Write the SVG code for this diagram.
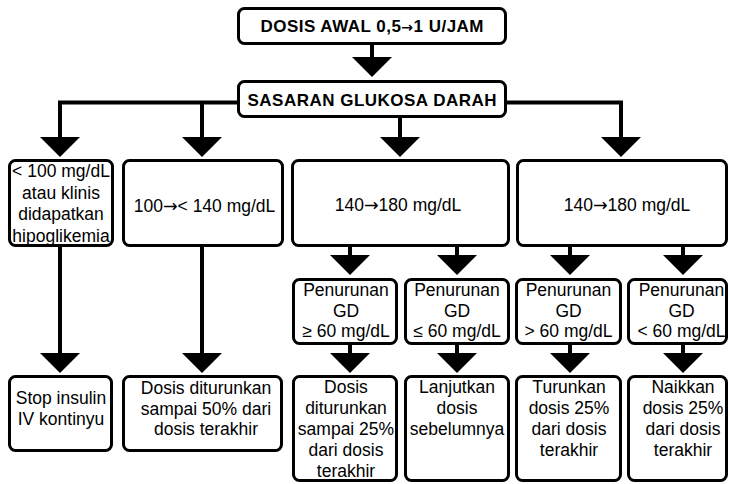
<svg xmlns="http://www.w3.org/2000/svg" width="730" height="484" viewBox="0 0 730 484">
<style>
.box{fill:#fff;stroke:#000;stroke-width:3}
.ln{stroke:#000;stroke-width:4;fill:none}
.hd{fill:#000}
text{font-family:"Liberation Sans",Arial,sans-serif;font-size:17.5px;fill:#000;text-anchor:middle}
.b{font-weight:bold;font-size:17px}
.ar{font-family:"DejaVu Sans",sans-serif}
</style>
<rect width="730" height="484" fill="#fff"/>
<g id="connectors">
<line class="ln" x1="372" y1="45" x2="372" y2="58"/>
<polygon class="hd" points="352,57 392,57 372,77"/>
<polyline class="ln" points="60,138 60,102.5 238,102.5"/>
<line class="ln" x1="202" y1="102.5" x2="202" y2="138"/>
<polyline class="ln" points="506,102.5 621,102.5 621,138"/>
<line class="ln" x1="400" y1="117" x2="400" y2="138"/>
<polygon class="hd" points="40,137 80,137 60,157"/>
<polygon class="hd" points="182,137 222,137 202,157"/>
<polygon class="hd" points="380,137 420,137 400,157"/>
<polygon class="hd" points="601,137 641,137 621,157"/>
<line class="ln" x1="350" y1="246" x2="350" y2="256"/>
<line class="ln" x1="457" y1="246" x2="457" y2="256"/>
<line class="ln" x1="570" y1="246" x2="570" y2="256"/>
<line class="ln" x1="683" y1="246" x2="683" y2="256"/>
<polygon class="hd" points="330,255 370,255 350,275"/>
<polygon class="hd" points="437,255 477,255 457,275"/>
<polygon class="hd" points="550,255 590,255 570,275"/>
<polygon class="hd" points="663,255 703,255 683,275"/>
<line class="ln" x1="350" y1="344" x2="350" y2="354"/>
<line class="ln" x1="457" y1="344" x2="457" y2="354"/>
<line class="ln" x1="570" y1="344" x2="570" y2="354"/>
<line class="ln" x1="683" y1="344" x2="683" y2="354"/>
<line class="ln" x1="60" y1="246" x2="60" y2="354"/>
<line class="ln" x1="202" y1="246" x2="202" y2="354"/>
<polygon class="hd" points="40,353 80,353 60,373"/>
<polygon class="hd" points="182,353 222,353 202,373"/>
<polygon class="hd" points="330,353 370,353 350,373"/>
<polygon class="hd" points="437,353 477,353 457,373"/>
<polygon class="hd" points="550,353 590,353 570,373"/>
<polygon class="hd" points="663,353 703,353 683,373"/>
</g>
<g id="start">
<rect class="box" x="238.5" y="8.5" width="267" height="35" rx="6"/>
<text class="b" x="372" y="32" textLength="223" lengthAdjust="spacing">DOSIS AWAL 0,5<tspan class="ar" font-size="14">→</tspan>1 U/JAM</text>
</g>
<g id="target">
<rect class="box" x="238.5" y="81.5" width="267" height="35" rx="6"/>
<text class="b" x="372" y="106" textLength="249" lengthAdjust="spacing">SASARAN GLUKOSA DARAH</text>
</g>
<g id="lt100">
<rect class="box" x="9.5" y="160.5" width="103" height="85" rx="6"/>
<text x="61" y="177">&lt; 100 mg/dL</text>
<text x="61" y="198.5">atau klinis</text>
<text x="61" y="220">didapatkan</text>
<text x="61" y="241.5">hipoglikemia</text>
</g>
<g id="r100-140">
<rect class="box" x="123.5" y="160.5" width="159" height="85" rx="6"/>
<text x="204.5" y="212">100<tspan class="ar">→</tspan>&lt; 140 mg/dL</text>
</g>
<g id="r140-180a">
<rect class="box" x="292.5" y="160.5" width="216" height="85" rx="6"/>
<text x="398" y="211">140<tspan class="ar">→</tspan>180 mg/dL</text>
</g>
<g id="r140-180b">
<rect class="box" x="517.5" y="160.5" width="209" height="85" rx="6"/>
<text x="627" y="211">140<tspan class="ar">→</tspan>180 mg/dL</text>
</g>
<g id="pgd1">
<rect class="box" x="293.5" y="279.5" width="103" height="64" rx="6"/>
<text x="346" y="296">Penurunan</text>
<text x="346" y="316.5">GD</text>
<text x="346" y="337">≥ 60 mg/dL</text>
</g>
<g id="pgd2">
<rect class="box" x="405.5" y="279.5" width="103" height="64" rx="6"/>
<text x="457" y="296">Penurunan</text>
<text x="457" y="316.5">GD</text>
<text x="457" y="337">≤ 60 mg/dL</text>
</g>
<g id="pgd3">
<rect class="box" x="516.5" y="279.5" width="104" height="64" rx="6"/>
<text x="568.5" y="296">Penurunan</text>
<text x="568.5" y="316.5">GD</text>
<text x="568.5" y="337">&gt; 60 mg/dL</text>
</g>
<g id="pgd4">
<rect class="box" x="628.5" y="279.5" width="98" height="64" rx="6"/>
<text x="681.5" y="296">Penurunan</text>
<text x="681.5" y="316.5">GD</text>
<text x="681.5" y="337">&lt; 60 mg/dL</text>
</g>
<g id="stop">
<rect class="box" x="9.5" y="376.5" width="102" height="74" rx="6"/>
<text x="61" y="404">Stop insulin</text>
<text x="61" y="425">IV kontinyu</text>
</g>
<g id="down50">
<rect class="box" x="123.5" y="376.5" width="158" height="74" rx="6"/>
<text x="206" y="394">Dosis diturunkan</text>
<text x="206" y="414.5">sampai 50% dari</text>
<text x="206" y="435">dosis terakhir</text>
</g>
<g id="down25a">
<rect class="box" x="293.5" y="376.5" width="103" height="104" rx="6"/>
<text x="346" y="393">Dosis</text>
<text x="346" y="414">diturunkan</text>
<text x="346" y="435">sampai 25%</text>
<text x="346" y="456">dari dosis</text>
<text x="346" y="477">terakhir</text>
</g>
<g id="keep">
<rect class="box" x="405.5" y="376.5" width="103" height="104" rx="6"/>
<text x="457" y="393">Lanjutkan</text>
<text x="457" y="414">dosis</text>
<text x="457" y="435">sebelumnya</text>
</g>
<g id="down25b">
<rect class="box" x="516.5" y="376.5" width="104" height="104" rx="6"/>
<text x="569" y="393">Turunkan</text>
<text x="569" y="414">dosis 25%</text>
<text x="569" y="435">dari dosis</text>
<text x="569" y="456">terakhir</text>
</g>
<g id="up25">
<rect class="box" x="628.5" y="376.5" width="98" height="104" rx="6"/>
<text x="683" y="393">Naikkan</text>
<text x="683" y="414">dosis 25%</text>
<text x="683" y="435">dari dosis</text>
<text x="683" y="456">terakhir</text>
</g>
</svg>
